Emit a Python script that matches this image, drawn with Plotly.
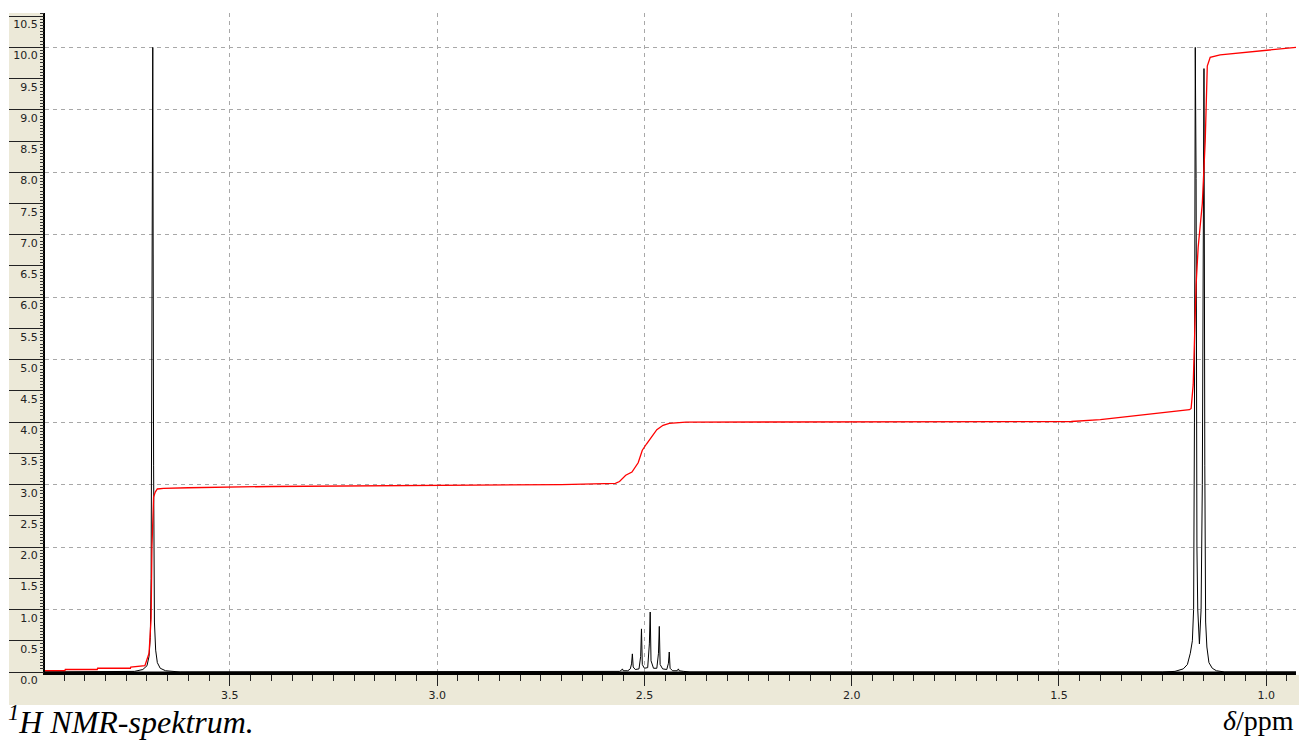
import plotly.graph_objects as go

# ---------------- data ----------------
# 1H spectrum: chemical shift (ppm) and intensity
spec_ppm = [
    3.946, 3.80, 3.76, 3.73, 3.71, 3.70, 3.695, 3.692, 3.690, 3.688, 3.686,
    3.684, 3.682, 3.679, 3.675, 3.668, 3.655, 3.62,
    2.575, 2.560, 2.555, 2.553, 2.551, 2.540, 2.534, 2.531, 2.529, 2.527,
    2.522, 2.513, 2.509, 2.507, 2.505, 2.500, 2.492, 2.488, 2.486, 2.484,
    2.478, 2.470, 2.466, 2.464, 2.462, 2.456, 2.446, 2.442, 2.440, 2.438,
    2.432, 2.421, 2.418, 2.416, 2.405, 2.39,
    1.25, 1.22, 1.20, 1.19, 1.183, 1.178, 1.175, 1.173, 1.171, 1.169,
    1.167, 1.165, 1.161, 1.157, 1.154, 1.152, 1.150, 1.148, 1.146, 1.143,
    1.138, 1.13, 1.12, 1.10, 0.928,
]
spec_int = [
    0.0, 0.0, 0.0, 0.01, 0.04, 0.10, 0.25, 0.55, 1.5, 7.3, 10.0,
    3.3, 0.8, 0.35, 0.15, 0.06, 0.02, 0.0,
    0.0, 0.01, 0.03, 0.05, 0.02, 0.02, 0.05, 0.13, 0.29, 0.08,
    0.04, 0.05, 0.25, 0.69, 0.12, 0.06, 0.07, 0.45, 0.96, 0.18,
    0.06, 0.06, 0.30, 0.73, 0.12, 0.05, 0.04, 0.14, 0.32, 0.06,
    0.02, 0.02, 0.05, 0.02, 0.01, 0.0,
    0.0, 0.01, 0.05, 0.12, 0.3, 0.5, 1.0, 4.0, 10.0, 7.9,
    2.0, 1.0, 0.45, 1.0, 3.0, 8.0, 9.66, 3.3, 0.8, 0.4,
    0.15, 0.06, 0.02, 0.0, 0.0,
]

# integral curve
integ_ppm = [
    3.946, 3.898, 3.897, 3.82, 3.819, 3.74, 3.739, 3.705, 3.695, 3.690,
    3.688, 3.686, 3.684, 3.680, 3.675, 3.66, 3.60, 3.40, 3.00, 2.70,
    2.57, 2.56, 2.545, 2.53, 2.515, 2.505, 2.495, 2.48, 2.47, 2.455,
    2.44, 2.40, 2.00, 1.52, 1.47, 1.40, 1.30, 1.20, 1.185, 1.181, 1.176,
    1.169, 1.164, 1.154, 1.147, 1.142, 1.135, 1.111, 1.00, 0.928,
]
integ_val = [
    0.02, 0.02, 0.04, 0.04, 0.06, 0.06, 0.08, 0.10, 0.30, 0.86,
    2.0, 2.5, 2.8, 2.88, 2.93, 2.94, 2.95, 2.97, 2.99, 3.0,
    3.02, 3.05, 3.15, 3.2, 3.35, 3.55, 3.65, 3.8, 3.88, 3.95,
    3.98, 4.0, 4.0, 4.0, 4.01, 4.04, 4.11, 4.18, 4.20, 4.22, 4.6,
    6.2, 6.8, 7.5, 8.5, 9.7, 9.84, 9.88, 9.96, 10.0,
]

x_tick_vals = [3.5, 3.0, 2.5, 2.0, 1.5, 1.0]
x_tick_text = ["3.5", "3.0", "2.5", "2.0", "1.5", "1.0"]
y_tick_vals = [0.0, 0.5, 1.0, 1.5, 2.0, 2.5, 3.0, 3.5, 4.0, 4.5, 5.0,
               5.5, 6.0, 6.5, 7.0, 7.5, 8.0, 8.5, 9.0, 9.5, 10.0, 10.5]
y_tick_text = ["0.0", "0.5", "1.0", "1.5", "2.0", "2.5", "3.0", "3.5", "4.0",
               "4.5", "5.0", "5.5", "6.0", "6.5", "7.0", "7.5", "8.0", "8.5",
               "9.0", "9.5", "10.0", "10.5"]
y_grid_vals = [1, 2, 3, 4, 5, 6, 7, 8, 9, 10]

# ---------------- figure ----------------
W, H = 1299, 740
ML, MR, MT, MB = 45, 3, 13, 68
PW, PH = W - ML - MR, H - MT - MB


def px_x(p):
    return (p - ML) / PW


def px_y(p):
    return 1 - (p - MT) / PH


BEIGE = "#ECE9D8"
TICKFONT = dict(family="DejaVu Sans, Tahoma, sans-serif", size=11, color="#222222")

fig = go.Figure()
fig.add_trace(go.Scatter(x=spec_ppm, y=spec_int, mode="lines",
                         line=dict(color="black", width=1), hoverinfo="skip"))
fig.add_trace(go.Scatter(x=integ_ppm, y=integ_val, mode="lines",
                         line=dict(color="#FF0000", width=1.3), hoverinfo="skip"))
# trace on the overlaid axis that carries the 0.5-step labels
fig.add_trace(go.Scatter(x=[3.946, 0.928], y=[0, 0], yaxis="y2", mode="lines",
                         line=dict(color="black", width=1), hoverinfo="skip"))

yr = [0, 10.55]
fig.update_layout(
    width=W, height=H,
    margin=dict(l=ML, r=MR, t=MT, b=MB, pad=0),
    paper_bgcolor="white", plot_bgcolor="white",
    showlegend=False,
    xaxis=dict(
        range=[3.946, 0.928], tickvals=x_tick_vals, ticktext=x_tick_text,
        ticks="outside", ticklen=11, tickwidth=1, tickcolor="#222222",
        minor=dict(dtick=0.05, tick0=0, ticks="outside", ticklen=6,
                   tickwidth=1, tickcolor="#222222", showgrid=False),
        showgrid=True, gridcolor="#A8A8A8", gridwidth=1, griddash="4px,4px",
        showline=True, linecolor="black", linewidth=3,
        zeroline=False, tickfont=TICKFONT,
    ),
    yaxis=dict(
        range=yr, tickvals=y_grid_vals, showticklabels=False, ticks="",
        showgrid=True, gridcolor="#A8A8A8", gridwidth=1, griddash="4px,4px",
        showline=True, linecolor="black", linewidth=2, zeroline=False,
    ),
    yaxis2=dict(
        range=yr, overlaying="y", side="left", tickvals=y_tick_vals,
        ticktext=y_tick_text, ticks="outside", ticklen=35, tickwidth=1,
        tickcolor="#222222",
        minor=dict(dtick=0.05, tick0=0, ticks="outside", ticklen=4,
                   tickwidth=1, tickcolor="#333333", showgrid=False),
        ticklabelposition="outside bottom", ticklabelstandoff=4,
        showgrid=False, showline=False, zeroline=False, tickfont=TICKFONT,
    ),
)

fig.add_shape(type="rect", xref="paper", yref="paper",
              x0=px_x(9), x1=px_x(44), y0=px_y(705), y1=px_y(13),
              fillcolor=BEIGE, line=dict(width=0), layer="below")
fig.add_shape(type="rect", xref="paper", yref="paper",
              x0=px_x(9), x1=px_x(1299), y0=px_y(705), y1=px_y(675),
              fillcolor=BEIGE, line=dict(width=0), layer="below")

fig.add_annotation(xref="paper", yref="paper", x=px_x(6), y=px_y(720),
                   xanchor="left", yanchor="middle", showarrow=False,
                   text="<i><sup>1</sup>H NMR-spektrum.</i>",
                   font=dict(family="Liberation Serif, Times New Roman, serif",
                             size=32, color="black"))
fig.add_annotation(xref="paper", yref="paper", x=px_x(1296), y=px_y(720),
                   xanchor="right", yanchor="middle", showarrow=False,
                   text="<i>δ</i>/ppm",
                   font=dict(family="Liberation Serif, Times New Roman, serif",
                             size=28, color="black"))

fig.write_html("out.html", config={"displayModeBar": False},
               post_script="document.body.style.margin='0px';")
